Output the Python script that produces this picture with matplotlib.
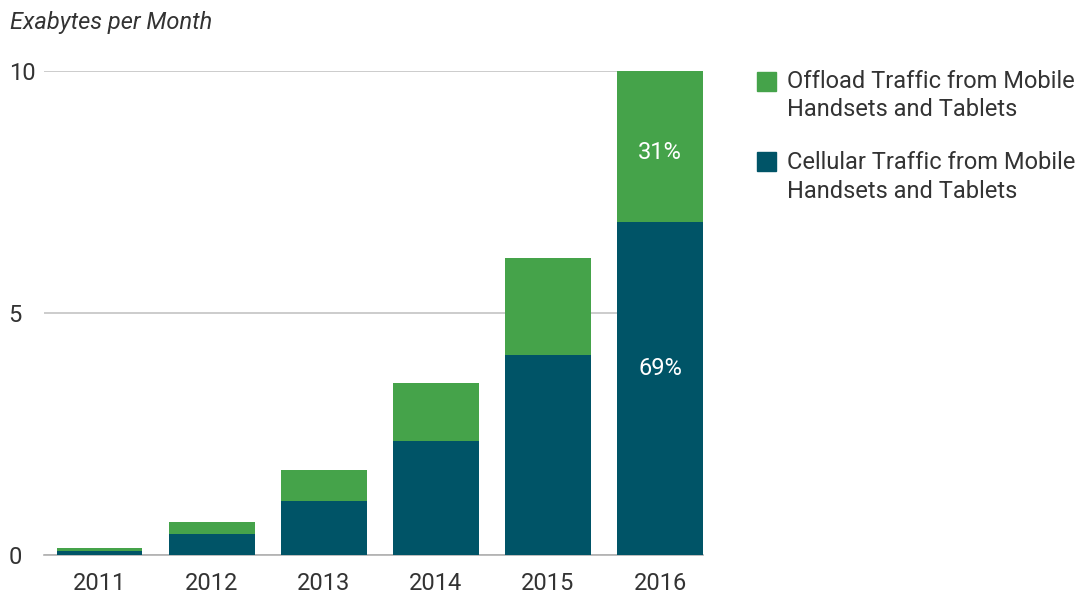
import numpy as np
import matplotlib.pyplot as plt
from matplotlib.patches import Rectangle

years = ['2011', '2012', '2013', '2014', '2015', '2016']
cellular = [0.09, 0.43, 1.12, 2.36, 4.13, 6.87]
offload = [0.05, 0.25, 0.64, 1.20, 2.01, 3.13]
pct_labels = {'offload': '31%', 'cellular': '69%'}
legend_entries = [
    ('Offload Traffic from Mobile', 'Handsets and Tablets'),
    ('Cellular Traffic from Mobile', 'Handsets and Tablets'),
]

green = '#45a34a'
teal = '#005467'
text_col = '#333333'
fs = 17

plt.rcParams['font.family'] = ['Roboto', 'DejaVu Sans']

W, H = 1081, 597
fig = plt.figure(figsize=(W / 100, H / 100), dpi=100)
ax = fig.add_axes([44 / W, 1 - 555 / H, (703 - 44) / W, (555 - 71) / H])

x = np.arange(len(years))
w = 0.766
ax.bar(x, cellular, w, color=teal, zorder=3)
ax.bar(x, offload, w, bottom=cellular, color=green, zorder=3)

# percentage labels on the last bar
last = len(years) - 1
ax.text(x[last], cellular[last] + offload[last] / 2 - 0.12, pct_labels['offload'],
        color='white', ha='center', va='center', fontsize=fs)
ax.text(x[last], cellular[last] / 2 + 0.42, pct_labels['cellular'],
        color='white', ha='center', va='center', fontsize=fs)

ax.set_xlim(-0.495, 5.383)
ax.set_ylim(0, 10)
ax.set_yticks([0, 5, 10])
ax.set_xticks(x)
ax.set_xticklabels(years)
ax.tick_params(axis='both', length=0, labelsize=fs, labelcolor=text_col)
ax.tick_params(axis='x', pad=12)
ax.tick_params(axis='y', pad=25.5)
for lab in ax.get_yticklabels():
    lab.set_horizontalalignment('left')

ax.grid(axis='y', color='#c4c4c4', linewidth=1.2, zorder=0)
for s in ['top', 'right', 'left']:
    ax.spines[s].set_visible(False)
ax.spines['bottom'].set_color('#b0b0b0')
ax.spines['bottom'].set_linewidth(1.2)

fig.text(10 / W, 1 - 22 / H, 'Exabytes per Month', fontsize=fs, style='italic',
         color=text_col, ha='left', va='center')

# legend drawn by hand so the swatch lines up with the first text line
for i, (l1, l2) in enumerate(legend_entries):
    y0 = 81 + i * 81
    col = green if i == 0 else teal
    fig.patches.append(Rectangle((757 / W, 1 - (y0 + 9.5) / H), 19 / W, 19 / H,
                                 transform=fig.transFigure, color=col))
    fig.text(787 / W, 1 - y0 / H, l1, fontsize=fs, color=text_col, ha='left', va='center')
    fig.text(787 / W, 1 - (y0 + 29) / H, l2, fontsize=fs, color=text_col, ha='left', va='center')

fig.savefig('out.png', dpi=100)
